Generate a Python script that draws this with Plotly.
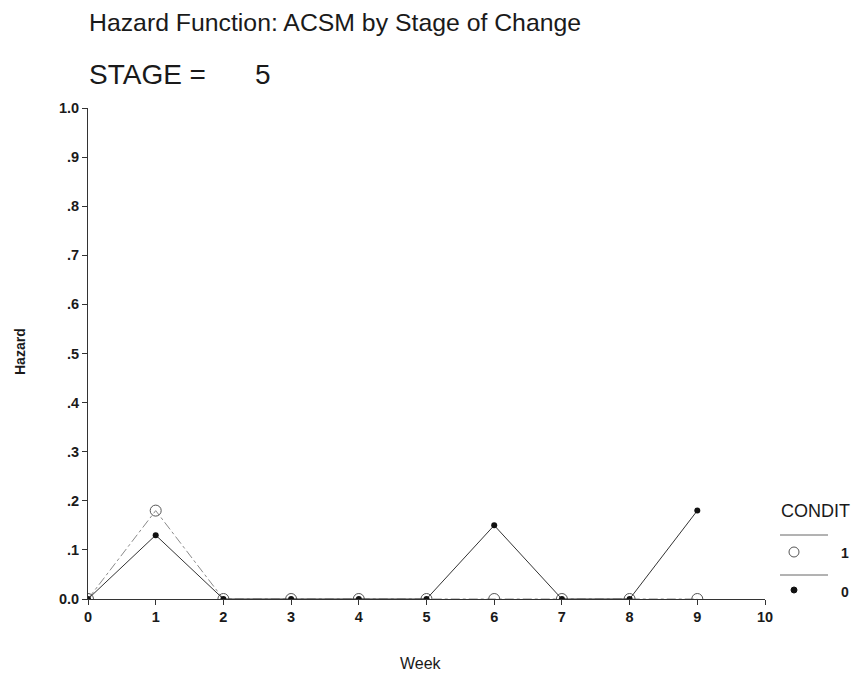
import plotly.graph_objects as go

# Hazard by week, one series per CONDIT group (STAGE = 5)
weeks = [0, 1, 2, 3, 4, 5, 6, 7, 8, 9]
hazard_condit_1 = [0.0, 0.18, 0.0, 0.0, 0.0, 0.0, 0.0, 0.0, 0.0, 0.0]
hazard_condit_0 = [0.0, 0.13, 0.0, 0.0, 0.0, 0.0, 0.15, 0.0, 0.0, 0.18]

y_tick_values = [0.0, 0.1, 0.2, 0.3, 0.4, 0.5, 0.6, 0.7, 0.8, 0.9, 1.0]
y_tick_labels = ["0.0", ".1", ".2", ".3", ".4", ".5", ".6", ".7", ".8", ".9", "1.0"]
x_tick_values = [0, 1, 2, 3, 4, 5, 6, 7, 8, 9, 10]

FONT = "Liberation Sans, Arial, sans-serif"
INK = "#1a1a1a"

fig = go.Figure()

fig.add_trace(go.Scatter(
    x=weeks, y=hazard_condit_1, mode="lines+markers", name="1",
    line=dict(color="#8a8a8a", width=1, dash="dashdot"),
    marker=dict(symbol="circle-open", size=11, color="#555555", line=dict(width=1)),
))
fig.add_trace(go.Scatter(
    x=weeks, y=hazard_condit_0, mode="lines+markers", name="0",
    line=dict(color="#333333", width=1),
    marker=dict(symbol="circle", size=6, color="#111111"),
))

W, H = 861, 679
L, R, T, B = 88, 96, 108, 80
pw, ph = W - L - R, H - T - B


def px_x(x):
    return (x - L) / pw


def px_y(y):
    return (H - B - y) / ph


annotations = [
    dict(text="Hazard Function: ACSM by Stage of Change", x=px_x(87), y=px_y(22),
         xanchor="left", yanchor="middle", font=dict(size=24.8, color=INK)),
    dict(text="STAGE =", x=px_x(87), y=px_y(74),
         xanchor="left", yanchor="middle", font=dict(size=28, color=INK)),
    dict(text="5", x=px_x(253), y=px_y(74),
         xanchor="left", yanchor="middle", font=dict(size=28, color=INK)),
    dict(text="Week", x=px_x(421), y=px_y(663),
         xanchor="center", yanchor="middle", font=dict(size=16, color=INK)),
    dict(text="<b>Hazard</b>", x=px_x(20), y=px_y(352), textangle=-90,
         xanchor="center", yanchor="middle", font=dict(size=14, color=INK)),
    dict(text="CONDIT", x=px_x(779), y=px_y(511),
         xanchor="left", yanchor="middle", font=dict(size=18, color=INK)),
    dict(text="<b>1</b>", x=px_x(845), y=px_y(553),
         xanchor="center", yanchor="middle", font=dict(size=14, color=INK)),
    dict(text="<b>0</b>", x=px_x(845), y=px_y(592),
         xanchor="center", yanchor="middle", font=dict(size=14, color=INK)),
]
for a in annotations:
    a.update(xref="paper", yref="paper", showarrow=False)

shapes = [
    dict(type="line", xref="paper", yref="paper", x0=px_x(780), x1=px_x(828),
         y0=px_y(535), y1=px_y(535), line=dict(color="#666666", width=1)),
    dict(type="line", xref="paper", yref="paper", x0=px_x(780), x1=px_x(828),
         y0=px_y(575), y1=px_y(575), line=dict(color="#666666", width=1)),
    dict(type="circle", xref="paper", yref="paper", xsizemode="pixel", ysizemode="pixel",
         xanchor=px_x(794), yanchor=px_y(552), x0=-5, x1=5, y0=-5, y1=5,
         line=dict(color="#555555", width=1)),
    dict(type="circle", xref="paper", yref="paper", xsizemode="pixel", ysizemode="pixel",
         xanchor=px_x(794), yanchor=px_y(590), x0=-3, x1=3, y0=-3, y1=3,
         line=dict(color="#111111", width=1), fillcolor="#111111"),
]

fig.update_layout(
    width=W, height=H,
    margin=dict(l=L, r=R, t=T, b=B),
    paper_bgcolor="white", plot_bgcolor="white",
    showlegend=False,
    font=dict(family=FONT, color=INK),
    annotations=annotations,
    shapes=shapes,
)
fig.update_xaxes(
    range=[0, 10], tickvals=x_tick_values, ticks="outside", ticklen=5,
    tickcolor="#333333", showline=True, linecolor="#333333", linewidth=1,
    showgrid=False, zeroline=False,
    tickfont=dict(size=14.5, color=INK, weight="bold"),
)
fig.update_yaxes(
    range=[0, 1], tickvals=y_tick_values, ticktext=y_tick_labels,
    ticks="outside", ticklen=5, tickcolor="#333333", showline=True,
    linecolor="#333333", linewidth=1, showgrid=False, zeroline=False,
    tickfont=dict(size=14.5, color=INK, weight="bold"),
)

fig.write_html("out.html")
